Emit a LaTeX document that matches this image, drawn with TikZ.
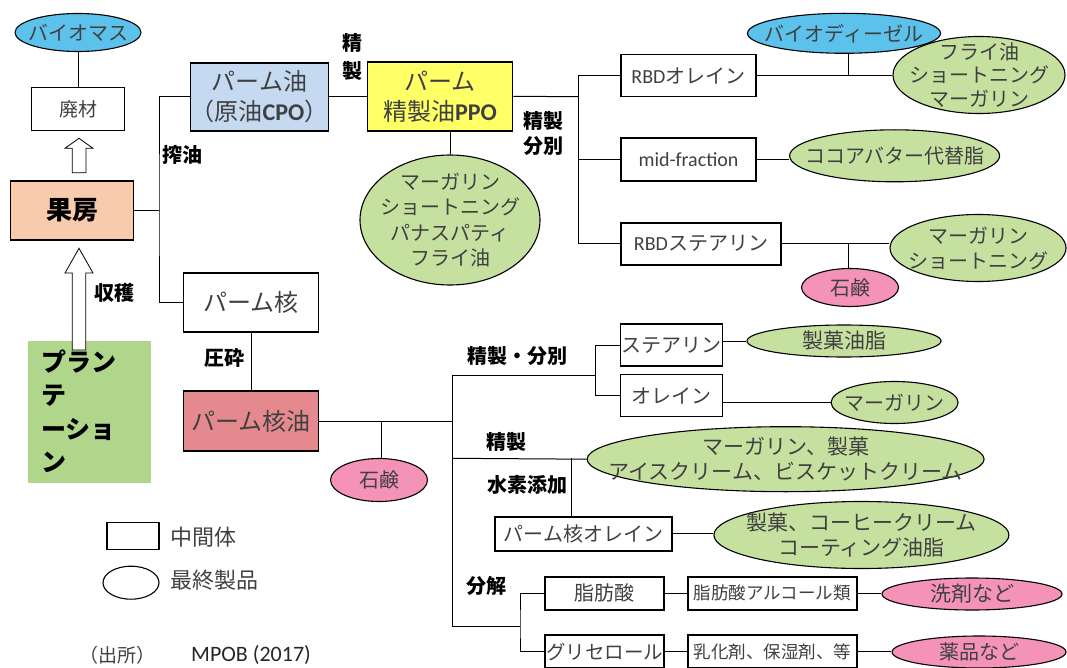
\documentclass[tikz,border=0pt]{standalone}
\usepackage{fontspec}
\setmainfont{Noto Sans CJK JP}
\newfontfamily\lat{Carlito}
\usetikzlibrary{shapes.geometric}
\definecolor{cblue}{RGB}{92,194,236}
\definecolor{cgreen}{RGB}{198,224,160}
\definecolor{cpink}{RGB}{244,146,184}
\definecolor{cpeach}{RGB}{248,203,173}
\definecolor{cplant}{RGB}{176,214,140}
\definecolor{coil}{RGB}{197,218,240}
\definecolor{cyel}{RGB}{255,255,102}
\definecolor{ckern}{RGB}{228,138,142}
\definecolor{tgray}{RGB}{64,64,64}
\newcommand\fs[2]{\fontsize{#1}{#2}\selectfont}
\begin{document}
\begin{tikzpicture}[x=1pt,y=-1pt,
  box/.style={draw, line width=1.5pt, inner sep=0pt, align=center, text=tgray, font=\fs{20}{24}},
  ell/.style={ellipse, draw, line width=1.1pt, inner sep=0pt},
  etxt/.style={align=center, text=tgray, inner sep=0pt},
  lbl/.style={font=\fs{20}{24}\bfseries, text=black, inner sep=0pt},
  conn/.style={line width=1pt}]
\useasboundingbox (0,0) rectangle (1067,668);

% ---- left column
\node[ell, fill=cblue, minimum width=126pt, minimum height=38pt,
  label={[etxt,font=\fs{20}{24}]center:バイオマス}] (bio) at (78,32.5) {};
\node[box, minimum width=93pt, minimum height=43pt, font=\fs{19}{23}] (haizai) at (78,109) {廃材};
\node[box, fill=cpeach, minimum width=123pt, minimum height=59pt, font=\fs{26}{30}\bfseries, text=black] (kabo) at (72,210.5) {果房};
\node[fill=cplant, minimum width=123pt, minimum height=142pt, inner sep=0pt, text width=96pt, align=left,
  font=\fs{25}{33.5}\bfseries] (plant) at (89,411.5) {プラン\\テ\\ーショ\\ン};

% hollow arrows
\draw[line width=0.8pt, fill=white] (79,138.3) -- (65,148.3) -- (72.3,148.3) -- (72.3,172.7) -- (86,172.7) -- (86,148.3) -- (93,148.3) -- cycle;
\draw[line width=0.8pt, fill=white] (79,248.3) -- (65,273) -- (72.3,273) -- (72.3,350) -- (85.8,350) -- (85.8,273) -- (93,273) -- cycle;

\node[lbl] (shukaku) at (114,293) {収穫};

% ---- palm oil / kernel
\node[box, fill=coil, minimum width=135pt, minimum height=68pt, font=\fs{24}{30}] (oil) at (259.5,97) {パーム油\\（原油{\lat\bfseries CPO}）};
\node[box, fill=cyel, minimum width=145pt, minimum height=69pt, font=\fs{24}{30}] (ppo) at (440,96.3) {パーム\\精製油{\lat\bfseries PPO}};
\node[ell, fill=cgreen, minimum width=180pt, minimum height=130pt,
  label={[etxt,font=\fs{20}{25.5}]center:{マーガリン\\ショートニング\\パナスパティ\\フライ油}}] (ppoell) at (450,220) {};
\node[box, minimum width=135pt, minimum height=59pt, font=\fs{24}{28}] (kernel) at (251,302.5) {パーム核};
\node[box, fill=ckern, minimum width=135pt, minimum height=60pt, font=\fs{24}{28}] (kernoil) at (251,421) {パーム核油};
\node[ell, fill=cpink, minimum width=97pt, minimum height=43pt,
  label={[etxt,font=\fs{20}{24}]center:石鹸}] (soap1) at (379,480) {};

\node[lbl] (sakuyu) at (182,155) {搾油};
\node[lbl] (sei1) at (352,43) {精};
\node[lbl] (sei2) at (352,71) {製};
\node[lbl] (assai) at (224,358) {圧砕};

% ---- upper right
\node[box, minimum width=135pt, minimum height=42pt] (rbdo) at (688.5,75.5) {{\lat RBD}オレイン};
\node[ell, fill=cblue, minimum width=193pt, minimum height=40pt,
  label={[etxt,font=\fs{20}{24}]center:バイオディーゼル}] (biod) at (844,33.3) {};
\node[ell, fill=cgreen, minimum width=172pt, minimum height=77pt,
  label={[etxt,font=\fs{20}{23.3}]center:{フライ油\\ショートニング\\マーガリン}}] (e1) at (979,75) {};
\node[box, minimum width=135pt, minimum height=43pt] (mid) at (688.5,159.7) {{\lat mid-fraction}};
\node[ell, fill=cgreen, minimum width=210pt, minimum height=52pt,
  label={[etxt,font=\fs{20}{24}]center:ココアバター代替脂}] (cocoa) at (894.6,155.8) {};
\node[box, minimum width=160pt, minimum height=42pt] (rbds) at (701,243.8) {{\lat RBD}ステアリン};
\node[ell, fill=cgreen, minimum width=176pt, minimum height=67pt,
  label={[etxt,font=\fs{20}{25}]center:{マーガリン\\ショートニング}}] (e2) at (978,248) {};
\node[ell, fill=cpink, minimum width=97pt, minimum height=38pt,
  label={[etxt,font=\fs{20}{24}]center:石鹸}] (soap2) at (850,287.5) {};
\node[lbl] (seisei) at (543.5,121) {精製};
\node[lbl] (bunbetsu) at (543.5,146) {分別};

% ---- lower right
\node[box, minimum width=102pt, minimum height=42pt] (stea) at (671.6,345) {ステアリン};
\node[box, minimum width=102pt, minimum height=42pt] (olein) at (671.6,395.5) {オレイン};
\node[ell, fill=cgreen, minimum width=194pt, minimum height=32pt,
  label={[etxt,font=\fs{21}{24}]center:製菓油脂}] (kashi) at (844,341) {};
\node[ell, fill=cgreen, minimum width=127pt, minimum height=42pt,
  label={[etxt,font=\fs{20}{24}]center:マーガリン}] (marg) at (894.6,402.5) {};
\node[ell, fill=cgreen, minimum width=397pt, minimum height=65pt,
  label={[etxt,font=\fs{21}{25}]center:{マーガリン、製菓\\アイスクリーム、ビスケットクリーム}}] (big) at (785.6,459.2) {};
\node[box, minimum width=177pt, minimum height=34pt] (pko) at (583.4,533.8) {パーム核オレイン};
\node[ell, fill=cgreen, minimum width=295pt, minimum height=67pt,
  label={[etxt,font=\fs{21}{25}]center:{製菓、コーヒークリーム\\コーティング油脂}}] (coffee) at (861.4,535) {};
\node[box, minimum width=119pt, minimum height=33pt] (fa) at (604.6,593.3) {脂肪酸};
\node[box, minimum width=169pt, minimum height=33pt, font=\fs{17.5}{21}] (faa) at (772.4,593.3) {脂肪酸アルコール類};
\node[ell, fill=cpink, minimum width=180pt, minimum height=32pt,
  label={[etxt,font=\fs{21}{24}]center:洗剤など}] (det) at (972,594) {};
\node[box, minimum width=119pt, minimum height=33pt, font=\fs{19.5}{23}] (gly) at (604.6,651.5) {グリセロール};
\node[box, minimum width=169pt, minimum height=33pt, font=\fs{17.5}{21}] (emu) at (772.4,651.5) {乳化剤、保湿剤、等};
\node[ell, fill=cpink, minimum width=174pt, minimum height=32pt,
  label={[etxt,font=\fs{20}{24}]center:薬品など}] (med) at (979,652) {};

\node[lbl] (sb) at (517,356) {精製・分別};
\node[lbl] (sei3) at (506,441.7) {精製};
\node[lbl] (suiso) at (527,485) {水素添加};
\node[lbl] (bunkai) at (486,586) {分解};

% ---- legend & source
\node[draw, line width=1.5pt, minimum width=52pt, minimum height=27pt, inner sep=0pt] (legbox) at (133,536) {};
\node[anchor=west, text=tgray, font=\fs{22}{26}, inner sep=0pt] (legbt) at (170.5,537) {中間体};
\node[ell, minimum width=56pt, minimum height=33pt] (legell) at (131,582.7) {};
\node[anchor=west, text=tgray, font=\fs{22}{26}, inner sep=0pt] (leget) at (170.5,580) {最終製品};
\node[text=tgray, font=\fs{19}{23}, inner sep=0pt] (src1) at (117,655) {（出所）};
\node[text=black!85, font=\lat\fs{22}{26}, inner sep=0pt] (src2) at (251,655) {MPOB (2017)};

% ---- coordinates
\coordinate (j1) at (159,210.5);
\coordinate (j2) at (578.6,96.7);
\coordinate (j3) at (848,75.5);
\coordinate (j4) at (848,243.8);
\coordinate (jk) at (381.5,421);
\coordinate (k0) at (452,421);
\coordinate (k1) at (452,375);
\coordinate (k2) at (452,458.3);
\coordinate (k3) at (452,626);
\coordinate (s1) at (595.2,375);
\coordinate (h1) at (571.2,458.3);
\coordinate (d1) at (520,626);

% ---- connectors
\begin{scope}[conn]
\draw (bio.south) -- (haizai.north);
\draw (kabo.east) -- (j1);
\draw (oil.west) -| (j1) |- (kernel.west);
\draw (oil.east) -- (oil.east -| ppo.west);
\draw (ppoell.north) -- (ppoell.north |- ppo.south);
\draw (ppo.east) -- (j2);
\draw (rbdo.west) -| (j2) |- (rbds.west);
\draw (j2 |- mid.west) -- (mid.west);
\draw (rbdo.east) -- (rbdo.east -| e1.west);
\draw (j3) -- (j3 |- biod.south);
\draw (mid.east) -- (mid.east -| cocoa.west);
\draw (rbds.east) -- (rbds.east -| e2.west);
\draw (j4) -- (j4 |- soap2.north);
\draw (kernel.south) -- (kernoil.north);
\draw (kernoil.east) -- (k0);
\draw (jk) -- (jk |- soap1.north);
\draw (k1) -- (k3);
\draw (k1) -- (s1);
\draw (stea.west) -| (s1) |- (olein.west);
\draw (kashi.west -| stea.east) -- (kashi.west);
\draw (marg.west -| olein.east) -- (marg.west);
\draw (k2) -- (big.west);
\draw (h1) -- (h1 |- pko.north);
\draw (pko.east) -- (pko.east -| coffee.west);
\draw (k3) -- (d1);
\draw (fa.west) -| (d1) |- (gly.west);
\draw (fa.east) -- (faa.west);
\draw (faa.east) -- (faa.east -| det.west);
\draw (gly.east) -- (emu.west);
\draw (emu.east) -- (emu.east -| med.west);
\end{scope}
\end{tikzpicture}
\end{document}
